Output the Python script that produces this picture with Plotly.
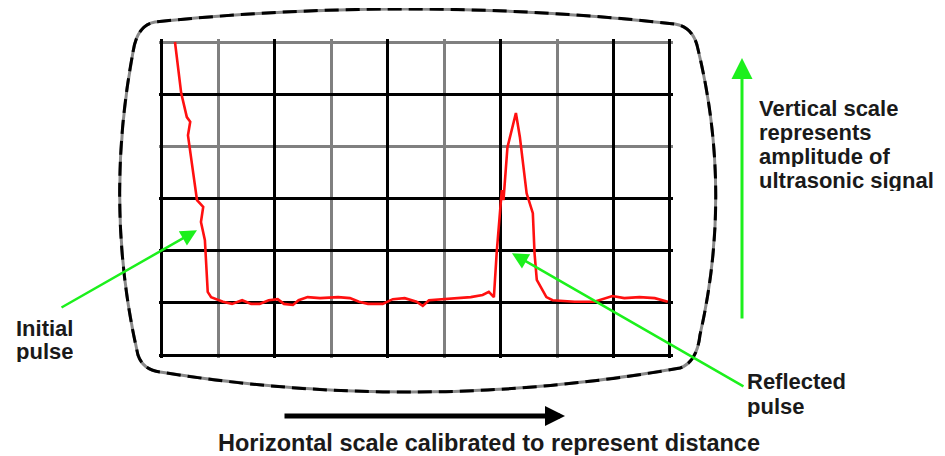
import plotly.graph_objects as go

# page body keeps its default 8px margin, so the figure is shifted by that much
OFF = 8
W, H = 945 - OFF, 456 - OFF

# trace: x in horizontal divisions, y in vertical divisions
trace_x = [0.23, 0.34, 0.44, 0.50, 0.46, 0.62, 0.73, 0.69, 0.76, 0.81, 0.87,
           1.08, 1.24, 1.42, 1.58, 1.73, 1.89, 2.05, 2.16, 2.32, 2.42, 2.58,
           2.80, 3.12, 3.33, 3.49, 3.65, 3.91, 4.09, 4.30, 4.51, 4.62, 4.73,
           4.94, 5.26, 5.47, 5.68, 5.79, 5.88, 5.93, 6.02, 6.05, 6.12, 6.27,
           6.34, 6.46, 6.57, 6.60, 6.64, 6.73, 6.81, 6.92, 7.31, 7.66, 7.84,
           7.98, 8.19, 8.46, 8.73, 8.96]
trace_y = [6.00, 5.02, 4.56, 4.47, 4.21, 2.97, 2.84, 2.55, 2.20, 1.21, 1.11,
           1.02, 0.98, 1.05, 0.98, 0.98, 1.05, 1.07, 0.98, 0.96, 1.05, 1.11,
           1.09, 1.11, 1.09, 1.02, 0.98, 0.98, 1.07, 1.09, 1.02, 0.94, 1.05,
           1.07, 1.09, 1.11, 1.15, 1.21, 1.11, 1.97, 3.16, 2.97, 3.98, 4.64,
           4.18, 3.10, 2.72, 1.95, 1.44, 1.25, 1.11, 1.05, 1.02, 1.02, 1.09,
           1.13, 1.09, 1.11, 1.09, 1.02]

# grid divisions (black and grey lines)
x_black = [0, 2, 4, 6, 8, 9]
x_grey = [1, 3, 5, 7]
y_black = [0, 1, 2, 3, 5]
y_grey = [4, 6]

initial_point = (0.62, 2.39)
reflected_point = (6.20, 1.95)

initial_lines = ["Initial", "pulse"]
vertical_lines = ["Vertical scale", "represents", "amplitude of", "ultrasonic signal"]
reflected_lines = ["Reflected", "pulse"]
horizontal_label = "Horizontal scale calibrated to represent distance"


def fx(px):
    return (px - OFF) / W


def fy(py):
    return 1 - (py - OFF) / H


def path_from(cmds):
    out = []
    for c in cmds:
        op, pts = c[0], c[1:]
        out.append(op + " " + " ".join(f"{fx(p[0]):.4f},{fy(p[1]):.4f}" for p in pts))
    return " ".join(out) + " Z"


screen = path_from([
    ("M", (133, 52)),
    ("Q", (137, 25), (155, 22)),
    ("Q", (415, -5), (675, 24)),
    ("Q", (692, 27), (697, 45)),
    ("Q", (733, 190), (700, 335)),
    ("Q", (697, 362), (680, 368)),
    ("Q", (420, 414), (160, 372)),
    ("Q", (143, 370), (138, 355)),
    ("Q", (104, 207), (133, 52)),
])

pad = 0.05
ppx = (670 - 162) / 9
ppy = (355 - 42) / 6

fig = go.Figure()
fig.add_trace(go.Scatter(
    x=trace_x, y=trace_y, mode="lines",
    line=dict(color="#ff1010", width=2.6),
    hoverinfo="skip", showlegend=False
))

fig.update_layout(
    width=W, height=H,
    margin=dict(l=0, r=0, t=0, b=0),
    paper_bgcolor="white", plot_bgcolor="white",
    showlegend=False,
    xaxis=dict(
        domain=[fx(162 - pad * ppx), fx(670 + pad * ppx)],
        range=[-pad, 9 + pad],
        tickmode="array", tickvals=x_black, showticklabels=False, ticks="",
        showgrid=True, gridcolor="black", gridwidth=3, zeroline=False,
        minor=dict(tickmode="array", tickvals=x_grey, showgrid=True,
                   gridcolor="#808080", gridwidth=3),
    ),
    yaxis=dict(
        domain=[fy(355 + pad * ppy), fy(42 - pad * ppy)],
        range=[-pad, 6 + pad],
        tickmode="array", tickvals=y_black, showticklabels=False, ticks="",
        showgrid=True, gridcolor="black", gridwidth=3, zeroline=False,
        minor=dict(tickmode="array", tickvals=y_grey, showgrid=True,
                   gridcolor="#808080", gridwidth=3),
    ),
)

# screen outline: grey underneath, black dashes on top
fig.add_shape(type="path", path=screen, xref="paper", yref="paper",
              line=dict(color="#8a8a8a", width=3))
fig.add_shape(type="path", path=screen, xref="paper", yref="paper",
              line=dict(color="black", width=3, dash="14px,7px"))

green = "#1cf01c"
fig.add_annotation(x=initial_point[0], y=initial_point[1], xref="x", yref="y",
                   ax=-137, ay=78, text="", showarrow=True,
                   arrowhead=2, arrowsize=1.3, arrowwidth=2.5, arrowcolor=green)
fig.add_annotation(x=reflected_point[0], y=reflected_point[1], xref="x", yref="y",
                   ax=233, ay=134, text="", showarrow=True,
                   arrowhead=2, arrowsize=1.3, arrowwidth=2.5, arrowcolor=green)
fig.add_annotation(x=fx(742), y=fy(58), xref="paper", yref="paper",
                   ax=0, ay=262, text="", showarrow=True,
                   arrowhead=2, arrowsize=1.4, arrowwidth=3, arrowcolor=green)
fig.add_annotation(x=fx(565), y=fy(416), xref="paper", yref="paper",
                   ax=-282, ay=0, text="", showarrow=True,
                   arrowhead=2, arrowsize=0.8, arrowwidth=5, arrowcolor="black")


def label(text, left, mid, size=22, box=22):
    fig.add_annotation(x=fx(left), y=fy(mid), xref="paper", yref="paper",
                       text=f"<b>{text}</b>", showarrow=False,
                       xanchor="left", yanchor="middle", height=box, borderpad=0,
                       font=dict(family="Liberation Sans, Arial, sans-serif",
                                 size=size, color="#1a1a1a"))


for i, t in enumerate(initial_lines):
    label(t, 15, 328 + 23 * i)
for i, t in enumerate(vertical_lines):
    label(t, 758, 108 + 24 * i)
for i, t in enumerate(reflected_lines):
    label(t, 746, 381 + 25 * i)
label(horizontal_label, 217, 443, size=23.5, box=24)

fig.write_html("out.html")
